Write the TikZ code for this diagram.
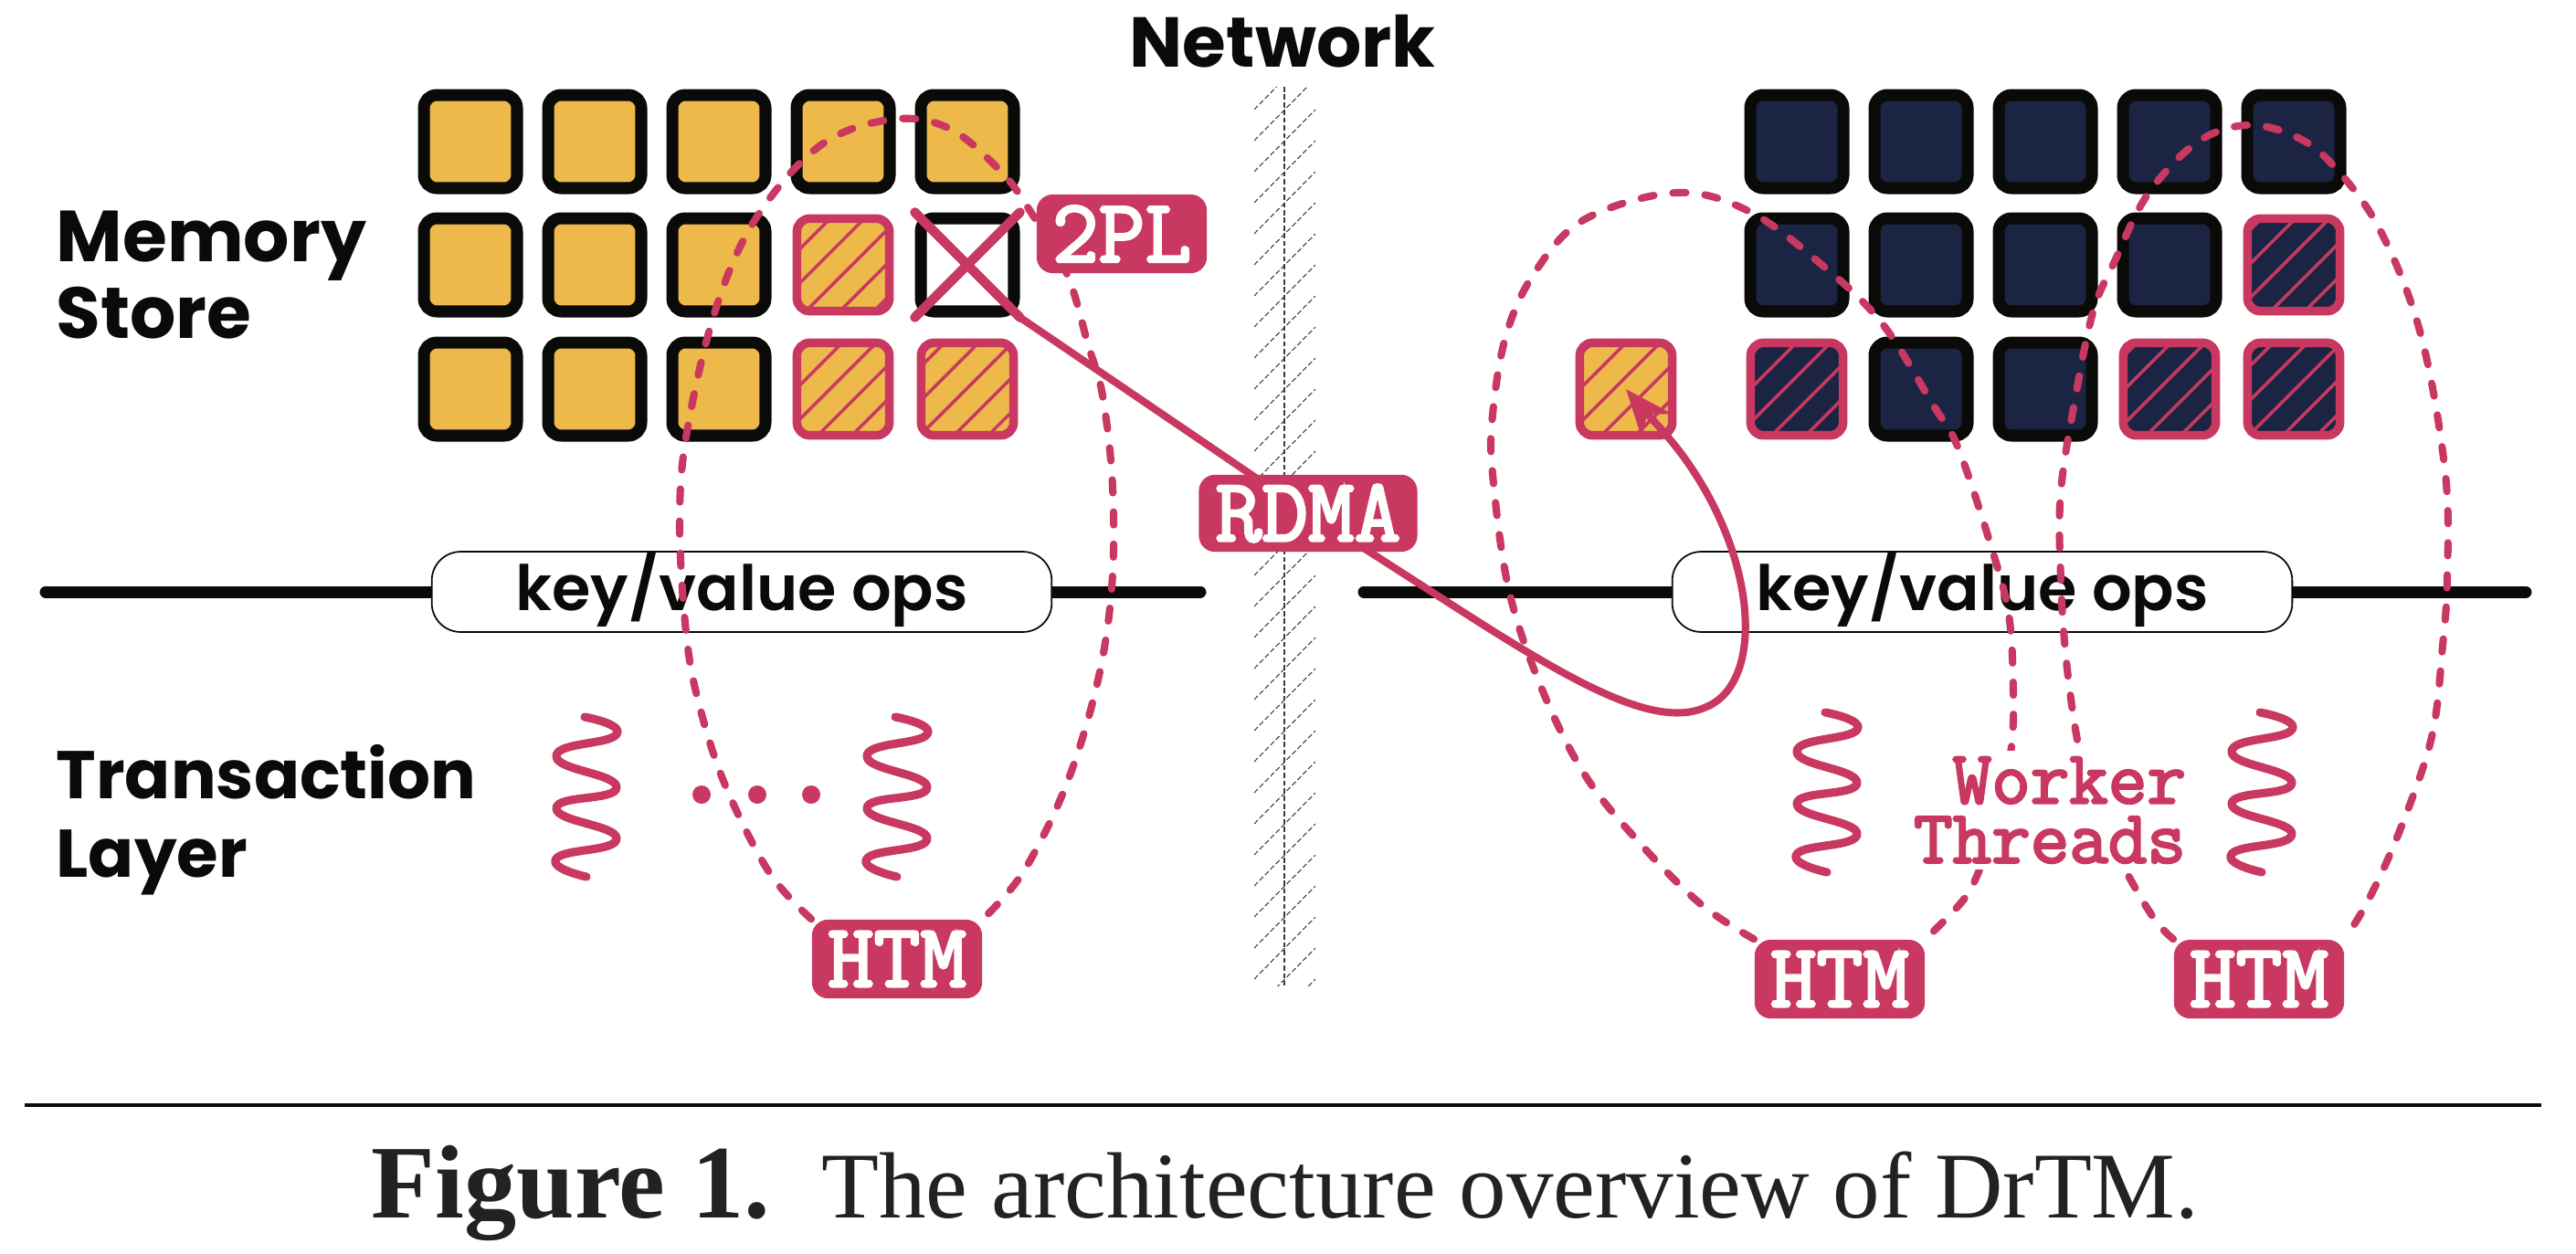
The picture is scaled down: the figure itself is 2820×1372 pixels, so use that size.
\documentclass[tikz,border=0pt]{standalone}
\usepackage{fontspec}
\setmainfont{Liberation Serif}
\newfontfamily\labelfont{Poppins}
\newfontfamily\opsfont{Poppins SemiBold}
\newfontfamily\tagfont[FakeBold=3]{Latin Modern Mono}
\usepackage{pgf,tikz}
\usetikzlibrary{arrows.meta}
\usetikzlibrary{patterns.meta}
\definecolor{htmred}{RGB}{200,56,96}
\definecolor{storegold}{RGB}{236,185,74}
\definecolor{storenavy}{RGB}{28,36,68}
\definecolor{inkblack}{RGB}{10,10,8}
\pgfdeclarelayer{front}
\pgfsetlayers{main,front}
\tikzset{
  cellbox/.style={minimum size=29pt,inner sep=0pt,rounded corners=4pt,draw=inkblack,line width=3.7pt},
  lockedbox/.style={minimum size=28.8pt,inner sep=0pt,rounded corners=4pt,draw=htmred,line width=2.7pt,fill=#1,postaction={pattern={Lines[angle=45,distance=7.5pt,line width=1pt]},pattern color=htmred}},
  tagbox/.style={fill=htmred,text=white,rounded corners=5pt,inner sep=0pt,minimum width=53pt,minimum height=24.5pt,font=\tagfont\fontsize{28}{28}\selectfont},
  bigtext/.style={font=\labelfont\bfseries\fontsize{21.5}{24}\selectfont,text=inkblack,align=left,inner sep=0pt},
  htmdash/.style={draw=htmred,line width=2.3pt,line cap=round,dash pattern=on 4pt off 6pt},
  rdmaline/.style={draw=htmred,line width=2.3pt},
  opsbar/.style={draw=inkblack,line width=3.7pt,line cap=round},
  opsbox/.style={draw=inkblack,fill=white,rounded corners=9pt,line width=0.5pt,minimum width=193pt,minimum height=25pt,inner sep=0pt},
  opstext/.style={font=\opsfont\fontsize{19.5}{21}\selectfont,text=inkblack,inner sep=0pt},
  wiggle/.style={draw=htmred,line width=2.6pt,line cap=round}
}
\newcommand{\threadwiggle}[1]{\draw[wiggle,shift={#1}] plot[smooth,tension=0.95] coordinates {(35,0) (70,19) (4,43) (70,77) (4,100) (70,133) (4,155) (37,175)};}
\begin{document}
\begin{tikzpicture}[x=0.01cm,y=-0.01cm,line join=round]
\useasboundingbox (0,0) rectangle (2820,1372);
% network strip
\begin{scope}
\clip (1373,95) rectangle (1440,1079);
\foreach \yy in {120,154,...,1150}
  \draw [inkblack!80,line width=0.3pt,dash pattern=on 1.6pt off 0.8pt] (1373,\yy) -- (1440,\yy-68);
\end{scope}
\draw [inkblack!80,line width=0.3pt,dash pattern=on 1.6pt off 0.8pt] (1406,95) -- (1406,1079);
\node [bigtext,font=\labelfont\bfseries\fontsize{22}{24}\selectfont] (network) at (1404,45) {Network};
% memory stores
\foreach \col/\row in {515/155,651/155,787/155,923/155,1059/155,515/290,651/290,787/290,515/426,651/426,787/426}
  \node [cellbox,fill=storegold] (lm\col\row) at (\col,\row) {};
\foreach \col/\row in {1967/155,2103/155,2239/155,2375/155,2511/155,1967/290,2103/290,2239/290,2375/290,2103/426,2239/426}
  \node [cellbox,fill=storenavy] (rm\col\row) at (\col,\row) {};
\foreach \col/\row in {923/290,923/426,1059/426,1780/426}
  \node [lockedbox=storegold] (lk\col\row) at (\col,\row) {};
\foreach \col/\row in {2511/290,1967/426,2375/426,2511/426}
  \node [lockedbox=storenavy] (lk\col\row) at (\col,\row) {};
\node [cellbox,fill=white] (crossed) at (1059,290) {};
\draw [htmred,line width=3pt,line cap=round] (crossed.north west) -- (crossed.south east);
\draw [htmred,line width=3pt,line cap=round] (crossed.north east) -- (crossed.south west);
% key/value bars
\coordinate (barLa) at (50,648);
\coordinate (barLb) at (1314,648);
\coordinate (barRa) at (1493,648);
\coordinate (barRb) at (2765,648);
\draw [opsbar] (barLa) -- (barLb);
\draw [opsbar] (barRa) -- (barRb);
\node [opsbox] (opsL) at (812,648) {};
\node [opsbox] (opsR) at (2170,648) {};
\node [opstext] (opsLt) at (812,645) {key/value ops};
\node [opstext] (opsRt) at (2170,645) {key/value ops};
% labels
\node [bigtext,anchor=west,font=\labelfont\bfseries\fontsize{22.5}{24}\selectfont] (mem) at (61,301) {Memory\\Store};
\node [bigtext,anchor=west,font=\labelfont\bfseries\fontsize{21}{24.5}\selectfont] (txn) at (61,898) {Transaction\\Layer};
% threads
\threadwiggle{(605,785)}
\threadwiggle{(945,785)}
\threadwiggle{(1963,780)}
\threadwiggle{(2439,780)}
\foreach \nn/\xx in {a/768,b/829,c/888}
  \fill [htmred] (\xx,870) circle (10) coordinate (dot\nn);
% tags on the front layer
\begin{pgfonlayer}{front}
\node [tagbox] (twopl) at (1228,256) {2PL};
\node [tagbox,minimum width=68pt,minimum height=24pt] (rdma) at (1432,562) {RDMA};
\node [tagbox] (htmA) at (982,1050) {HTM};
\node [tagbox] (htmB) at (2014,1072) {HTM};
\node [tagbox] (htmC) at (2473,1072) {HTM};
\node [fill=white,text=htmred,inner sep=2pt,align=right,font=\tagfont\fontsize{23.5}{18.5}\selectfont] (workers) at (2244,887) {Worker\\Threads};
\end{pgfonlayer}
% dashed regions
\draw [htmdash] plot[smooth,tension=0.6] coordinates {(htmA.north west) (842,955) (794,860) (765,770) (751,692) (744,570) (752,473) (783,340) (827,240) (897,160) (974,131) (1038,140) (1095,187) (1127,230) (1168,300) (1191,377) (1207,433) (1218,533) (1217,644) (1201,749) (1167,860) (1120,955) (htmA.north east)};
\draw [htmdash] plot[smooth,tension=0.6] coordinates {(htmB.north west) (1862,990) (1795,923) (1736,850) (1689,757) (1652,647) (1634,519) (1634,454) (1649,366) (1681,297) (1735,240) (1835,211) (1916,232) (1998,293) (2061,355) (2116,443) (2143,489) (2179,596) (2199,673) (2204,757) (2202,817) (2190,890) (2165,957) (2148,987) (htmB.north east)};
\draw [htmdash] plot[smooth,tension=0.6] coordinates {(htmC.north west) (2359,1007) (2329,957) (2290,880) (2274,810) (2262,723) (2256,634) (2256,538) (2274,424) (2292,339) (2315,286) (2351,213) (2405,156) (2460,137) (2514,150) (2555,182) (2605,251) (2650,366) (2677,519) (2679,634) (2674,707) (2662,807) (2628,907) (2594,983) (htmC.north east)};
% rdma read
\draw [rdmaline] (crossed.south east) -- (rdma.center);
\draw [rdmaline,-{Stealth[length=15pt,width=12pt]}] (rdma.center) .. controls (1640,690) and (1790,810) .. (1868,774) .. controls (1930,748) and (1925,620) .. (1850,510) .. controls (1830,480) and (1800,450) .. (lk1780426.center);
% caption
\draw [inkblack,line width=1.1pt] (27,1210) -- (2782,1210);
\node [font=\fontsize{29.3}{31}\selectfont,text=inkblack!90,inner sep=0pt] (caption) at (1407,1306) {\textbf{\fontsize{32.5}{31}\selectfont Figure 1.}\hspace{0.55em}The architecture overview of DrTM.};
\end{tikzpicture}
\end{document}
